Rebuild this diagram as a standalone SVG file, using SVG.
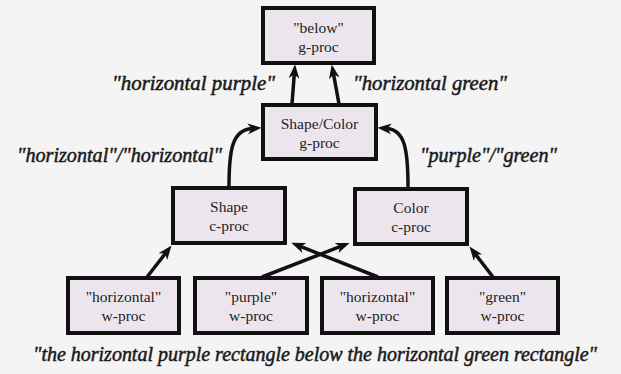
<svg xmlns="http://www.w3.org/2000/svg" width="621" height="374" viewBox="0 0 621 374">
<style>
.box{fill:#ede5ee;stroke:#111;stroke-width:4}
.t{font-family:"Liberation Serif","Times New Roman",serif;font-size:15.5px;fill:#222;text-anchor:middle}
.lab{font-family:"Liberation Serif","Times New Roman",serif;font-size:20px;font-style:italic;fill:#1a1a1a;stroke:#1a1a1a;stroke-width:0.5}
.c{fill:none;stroke:#111;stroke-width:3.5;marker-end:url(#ah)}
</style>
<defs>
<marker id="ah" markerUnits="userSpaceOnUse" markerWidth="14" markerHeight="12" viewBox="0 0 13 10" refX="4" refY="5" orient="auto">
<path d="M0,0 L13,5 L0,10 L3.5,5 z" fill="#111"/>
</marker>
</defs>
<rect width="621" height="374" fill="#f5f4f5"/>
<g id="connectors">
<path class="c" d="M292,104 L294.3,74"/>
<path class="c" d="M339,104 L333.5,74"/>
<path class="c" d="M229,187 C229,150 232,130 252,128.5"/>
<path class="c" d="M408,187 C408,150 405,130 387,128.5"/>
<path class="c" d="M147,277 L165.6,253.2"/>
<path class="c" d="M262,277 L340.6,246.4"/>
<path class="c" d="M378,277 L300.3,246.4"/>
<path class="c" d="M493,277 L475.4,254.2"/>
</g>
<g id="below">
<rect class="box" x="263" y="8" width="111" height="55"/>
<text class="t" x="318.5" y="33">"below"</text>
<text class="t" x="318.5" y="52">g-proc</text>
</g>
<g id="shapecolor">
<rect class="box" x="263" y="105" width="113" height="54"/>
<text class="t" x="319.5" y="129">Shape/Color</text>
<text class="t" x="319.5" y="148">g-proc</text>
</g>
<g id="shape">
<rect class="box" x="173" y="188" width="112" height="55"/>
<text class="t" x="229" y="212">Shape</text>
<text class="t" x="229" y="231">c-proc</text>
</g>
<g id="color">
<rect class="box" x="355" y="189" width="112" height="55"/>
<text class="t" x="411" y="213">Color</text>
<text class="t" x="411" y="232">c-proc</text>
</g>
<g id="w1">
<rect class="box" x="68" y="278" width="111" height="55"/>
<text class="t" x="123.5" y="302">"horizontal"</text>
<text class="t" x="123.5" y="321">w-proc</text>
</g>
<g id="w2">
<rect class="box" x="195" y="278" width="112" height="55"/>
<text class="t" x="251" y="302">"purple"</text>
<text class="t" x="251" y="321">w-proc</text>
</g>
<g id="w3">
<rect class="box" x="322" y="278" width="111" height="55"/>
<text class="t" x="377.5" y="302">"horizontal"</text>
<text class="t" x="377.5" y="321">w-proc</text>
</g>
<g id="w4">
<rect class="box" x="447" y="278" width="111" height="55"/>
<text class="t" x="502.5" y="302">"green"</text>
<text class="t" x="502.5" y="321">w-proc</text>
</g>
<g id="labels">
<text class="lab" x="112" y="90" textLength="163" lengthAdjust="spacingAndGlyphs">"horizontal purple"</text>
<text class="lab" x="353" y="90" textLength="154" lengthAdjust="spacingAndGlyphs">"horizontal green"</text>
<text class="lab" x="17" y="162" textLength="205" lengthAdjust="spacingAndGlyphs">"horizontal"/"horizontal"</text>
<text class="lab" x="420" y="162" textLength="137" lengthAdjust="spacingAndGlyphs">"purple"/"green"</text>
<text class="lab" x="33" y="361" textLength="564" lengthAdjust="spacingAndGlyphs">"the horizontal purple rectangle below the horizontal green rectangle"</text>
</g>
</svg>
